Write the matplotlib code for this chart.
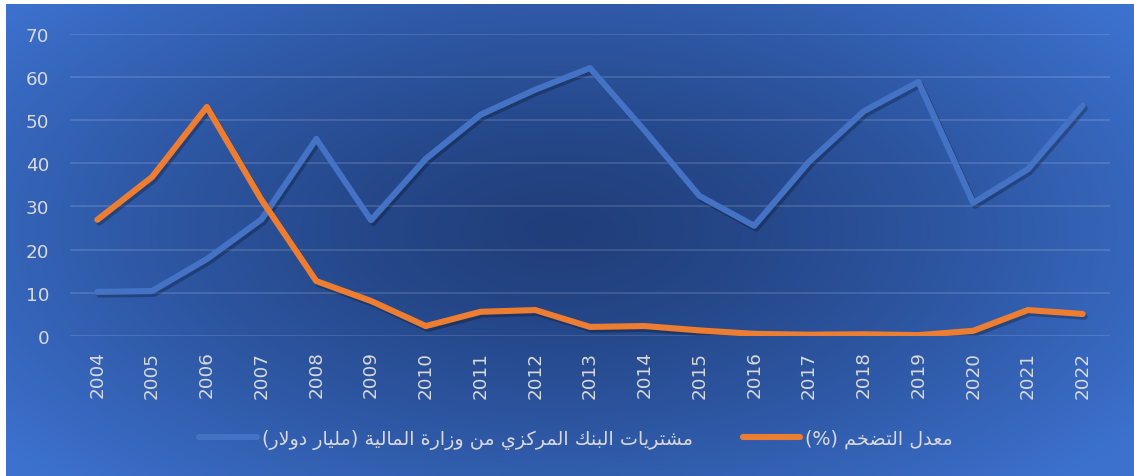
import numpy as np
import matplotlib
matplotlib.use("Agg")
import matplotlib.pyplot as plt
import matplotlib.patheffects as pe

# ---- data ----
years = [str(y) for y in range(2004, 2023)]
purchases = [10.2, 10.4, 17.8, 27.0, 45.6, 26.8, 41.0, 51.2, 57.0, 62.0,
             47.5, 32.4, 25.5, 40.3, 52.0, 58.8, 30.8, 38.6, 53.3]
inflation = [26.9, 36.8, 53.0, 31.5, 12.7, 8.1, 2.3, 5.6, 6.0, 2.1,
             2.3, 1.3, 0.5, 0.3, 0.4, 0.2, 1.2, 6.0, 5.1]
label_purchases = "مشتريات البنك المركزي من وزارة المالية (مليار دولار)"
label_inflation = "معدل التضخم (%)"
yticks = [0, 10, 20, 30, 40, 50, 60, 70]

# ---- minimal arabic shaping (matplotlib has no bidi/shaping) ----
FORMS = {
    '\u0627': ('\uFE8D', '\uFE8E', None, None),
    '\u0628': ('\uFE8F', '\uFE90', '\uFE91', '\uFE92'),
    '\u0629': ('\uFE93', '\uFE94', None, None),
    '\u062A': ('\uFE95', '\uFE96', '\uFE97', '\uFE98'),
    '\u062E': ('\uFEA5', '\uFEA6', '\uFEA7', '\uFEA8'),
    '\u062F': ('\uFEA9', '\uFEAA', None, None),
    '\u0631': ('\uFEAD', '\uFEAE', None, None),
    '\u0632': ('\uFEAF', '\uFEB0', None, None),
    '\u0634': ('\uFEB5', '\uFEB6', '\uFEB7', '\uFEB8'),
    '\u0636': ('\uFEBD', '\uFEBE', '\uFEBF', '\uFEC0'),
    '\u0639': ('\uFEC9', '\uFECA', '\uFECB', '\uFECC'),
    '\u0643': ('\uFED9', '\uFEDA', '\uFEDB', '\uFEDC'),
    '\u0644': ('\uFEDD', '\uFEDE', '\uFEDF', '\uFEE0'),
    '\u0645': ('\uFEE1', '\uFEE2', '\uFEE3', '\uFEE4'),
    '\u0646': ('\uFEE5', '\uFEE6', '\uFEE7', '\uFEE8'),
    '\u0648': ('\uFEED', '\uFEEE', None, None),
    '\u064A': ('\uFEF1', '\uFEF2', '\uFEF3', '\uFEF4'),
}
MIRROR = {'(': ')', ')': '('}


def arabic(text):
    out = []
    prev_joins = False
    i, n = 0, len(text)
    while i < n:
        c = text[i]
        if c not in FORMS:
            out.append(c)
            prev_joins = False
            i += 1
            continue
        if c == '\u0644' and i + 1 < n and text[i + 1] == '\u0627':
            out.append('\uFEFC' if prev_joins else '\uFEFB')
            prev_joins = False
            i += 2
            continue
        nxt = text[i + 1] if i + 1 < n else ''
        can_next = FORMS[c][2] is not None and nxt in FORMS
        if prev_joins and can_next:
            out.append(FORMS[c][3])
        elif prev_joins:
            out.append(FORMS[c][1])
        elif can_next:
            out.append(FORMS[c][2])
        else:
            out.append(FORMS[c][0])
        prev_joins = can_next
        i += 1
    return ''.join(MIRROR.get(ch, ch) for ch in reversed(out))


# ---- figure ----
W, H = 1134, 477
fig = plt.figure(figsize=(W / 100, H / 100), dpi=100, facecolor='white')

# radial gradient background
bg = fig.add_axes([6 / W, 0, 1 - 6 / W, 1 - 5 / H])
bg.set_axis_off()
gx, gy = np.meshgrid(np.linspace(0, 1, 400), np.linspace(0, 1, 200))
r = np.sqrt(((gx - 0.49) / 0.62) ** 2 + ((gy - 0.52) / 0.75) ** 2)
r = np.clip(r, 0, 1) ** 1.3
c0 = np.array([32, 62, 122]) / 255
c1 = np.array([60, 113, 206]) / 255
img = c0 + (c1 - c0) * r[..., None]
bg.imshow(img, aspect='auto', extent=[0, 1, 0, 1], origin='lower')

ax = fig.add_axes([70 / W, 1 - 337 / H, 1040 / W, (337 - 34.5) / H])
ax.patch.set_alpha(0)
x = np.arange(len(years))

shadow = [pe.SimpleLineShadow(offset=(1.5, -2), shadow_color='black', alpha=0.25), pe.Normal()]
ax.plot(x, purchases, color='#4472c4', lw=4.4, solid_capstyle='round',
        solid_joinstyle='round', path_effects=shadow, label=arabic(label_purchases), zorder=3)
ax.plot(x, inflation, color='#ed7d31', lw=4.4, solid_capstyle='round',
        solid_joinstyle='round', path_effects=shadow, label=arabic(label_inflation), zorder=4)

ax.set_xlim(-0.5, len(years) - 0.5)
ax.set_ylim(0, 70)
ax.set_yticks(yticks)
ax.set_xticks(x)
ax.set_xticklabels(years, rotation=90)
ax.grid(axis='y', color='white', alpha=0.15, lw=1.2)
ax.set_axisbelow(True)
for s in ax.spines.values():
    s.set_visible(False)
ax.tick_params(axis='both', length=0, colors='#d9d9d9', labelsize=13.2)
ax.tick_params(axis='y', pad=15)
ax.tick_params(axis='x', pad=10.5)

leg = fig.legend(loc='center', bbox_to_anchor=(576 / W, 1 - 440 / H), ncol=2,
                 frameon=False, fontsize=13.8, handlelength=3.0, handletextpad=0.25,
                 columnspacing=2.6, labelcolor='#d9d9d9')
for h in leg.get_lines():
    h.set_path_effects([])

fig.savefig('out.png', dpi=100, facecolor='white')
